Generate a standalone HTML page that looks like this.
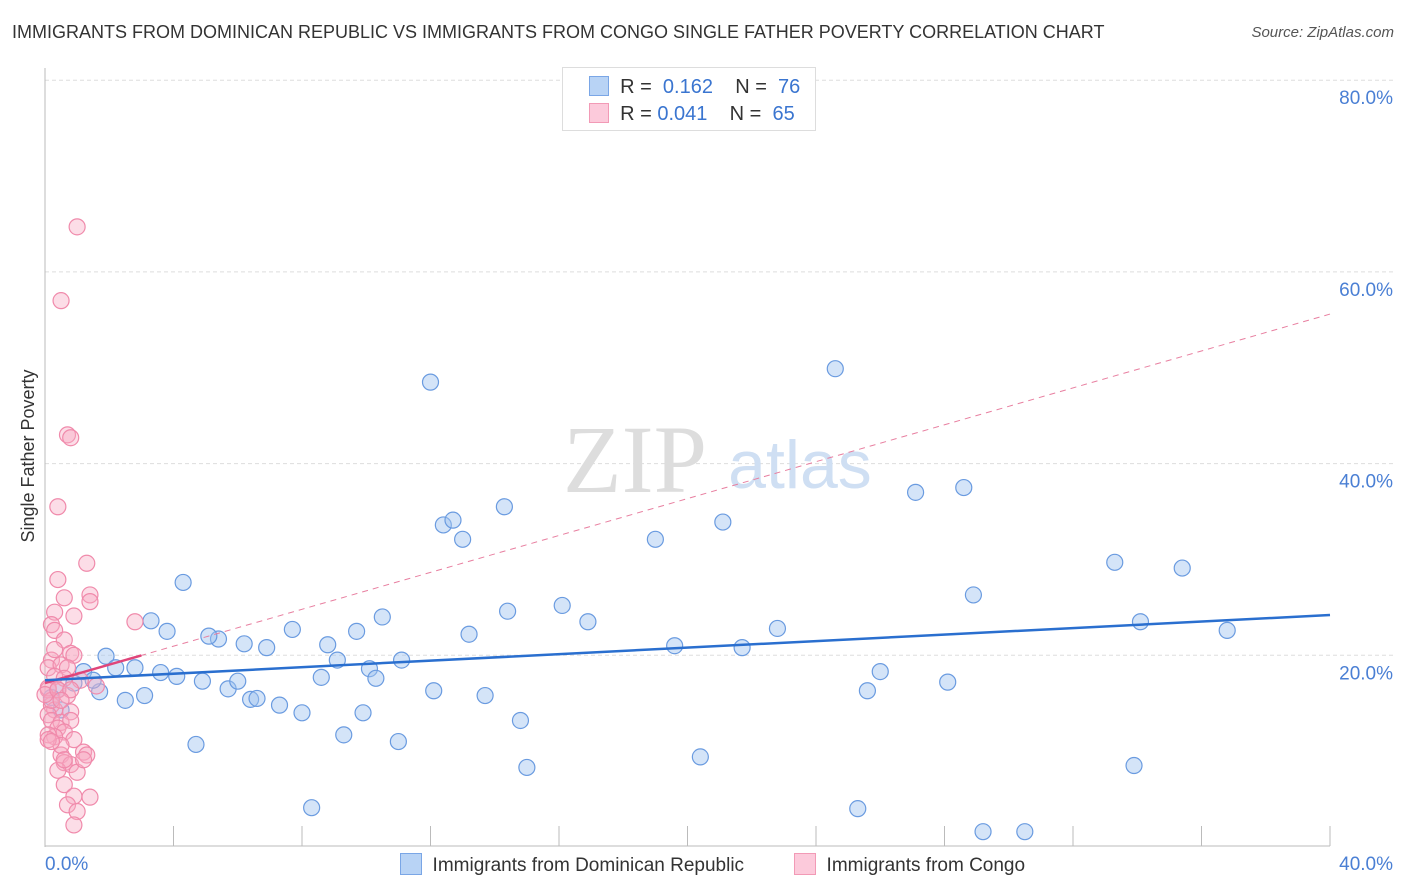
<!DOCTYPE html>
<html><head><meta charset="utf-8"><style>
body{margin:0;background:#fff;font-family:"Liberation Sans",sans-serif;}
#wrap{position:relative;width:1406px;height:892px;overflow:hidden}
.t{position:absolute;white-space:nowrap}
</style></head><body>
<div id="wrap">
<div class="t" style="left:12px;top:22px;font-size:18px;color:#333">IMMIGRANTS FROM DOMINICAN REPUBLIC VS IMMIGRANTS FROM CONGO SINGLE FATHER POVERTY CORRELATION CHART</div>
<div class="t" style="right:12px;top:24px;font-size:15px;color:#555;font-style:italic">Source: ZipAtlas.com</div>
<svg id="svg" width="1406" height="892" style="position:absolute;left:0;top:0"></svg>
</div>
<script>
const xTicks=[0,40];
const yTicks=[20,40,60,80];
const blueX=[12.0,24.6,12.4,12.7,13.0,14.3,19.0,21.1,27.1,28.6,33.3,35.4,28.9,34.1,36.8,16.1,14.4,16.9,13.2,10.5,9.7,8.8,7.7,6.9,6.2,5.4,5.1,4.3,3.8,3.3,1.9,1.2,2.2,2.8,3.6,4.1,4.9,5.7,6.0,6.4,6.6,7.3,8.0,8.6,9.1,10.1,10.3,11.1,9.9,9.3,11.0,12.1,13.7,14.8,15.0,19.6,21.7,22.8,20.4,26.0,25.6,28.1,33.9,25.3,29.2,30.5,8.3,4.7,2.5,3.1,1.7,0.9,1.5,0.4,0.2,0.5];
const blueY=[48.5,49.9,33.6,34.1,32.1,35.5,32.1,33.9,37.0,37.5,29.7,29.1,26.3,23.5,22.6,25.2,24.6,23.5,22.2,24.0,22.5,21.1,22.7,20.8,21.2,21.7,22.0,27.6,22.5,23.6,19.9,18.3,18.7,18.7,18.2,17.8,17.3,16.5,17.3,15.4,15.5,14.8,14.0,17.7,19.5,18.6,17.6,19.5,14.0,11.7,11.0,16.3,15.8,13.2,8.3,21.0,20.8,22.8,9.4,18.3,16.3,17.2,8.5,4.0,1.6,1.6,4.1,10.7,15.3,15.8,16.2,17.1,17.4,16.4,15.6,14.3];
const pinkX=[1.0,0.5,0.7,0.8,0.4,1.3,0.4,1.4,1.4,0.6,0.3,0.9,2.8,0.2,0.3,0.6,0.8,0.9,0.2,0.1,0.5,0.7,0.3,0.6,1.6,0.1,0.2,0.3,0.8,0.1,0.2,0.5,0.8,0.4,0.6,0.3,0.9,1.2,1.3,0.5,0.6,0.8,0.4,1.0,0.6,0.9,1.4,0.7,1.0,0.9,0.1,0.2,0.0,0.1,0.5,0.7,1.1,0.3,0.4,0.1,0.8,0.6,1.2,0.2,0.5];
const pinkY=[64.7,57.0,43.0,42.7,35.5,29.6,27.9,26.3,25.6,26.0,24.5,24.1,23.5,23.2,22.6,21.6,20.2,20.0,19.5,18.7,19.0,18.7,17.8,17.6,16.8,16.4,14.8,14.3,14.1,13.8,13.2,13.0,13.2,12.4,12.0,11.5,11.2,9.9,9.6,9.6,8.8,8.6,8.0,7.8,6.5,5.3,5.2,4.4,3.7,2.3,16.6,15.3,15.9,11.7,10.6,15.8,17.4,20.6,16.4,11.2,16.4,9.1,9.1,11.0,15.3];
const blueTrend=[17.4,24.2];
const pinkTrend=[17.1,55.6];
const NS="http://www.w3.org/2000/svg";
const svg=document.getElementById('svg');
const X0=45,X1=1330,Y0=847,YPER=9.585;
const sx=v=>X0+(X1-X0)*v/40, sy=v=>Y0-v*YPER;
function el(tag,a,parent){const e=document.createElementNS(NS,tag);for(const k in a)e.setAttribute(k,a[k]);(parent||svg).appendChild(e);return e;}
// grid
yTicks.forEach(v=>{
 const g=el('line',{x1:X0,x2:1395,y1:sy(v),y2:sy(v),stroke:'#ddd','stroke-dasharray':'4,3'});
 
 
 const t=el('text',{x:1393,y:sy(v)+24,'text-anchor':'end','font-size':19,fill:'#4a7fd4','font-family':'Liberation Sans'});
 t.textContent=v.toFixed(1)+'%';
 
 
});
// axes
const ax=el('line',{x1:X0,x2:X0,y1:68,y2:Y0,stroke:'#bbb'});


const bx=el('line',{x1:X0,x2:X1,y1:Y0-1,y2:Y0-1,stroke:'#bbb'});


for(let i=0;i<=10;i++){
 const tk=el('line',{x1:sx(i*4),x2:sx(i*4),y1:826,y2:846,stroke:'#bbb'});
 
 
}
xTicks.forEach((v,i)=>{
 const t=el('text',{x:i==0?45:1393,y:870,'text-anchor':i==0?'start':'end','font-size':19,fill:'#4a7fd4','font-family':'Liberation Sans'});
 t.textContent=v.toFixed(1)+'%';
 
 
});
// watermark
const w1=el('text',{x:635,y:492,'text-anchor':'middle','font-size':96,fill:'#ddd','font-family':'Liberation Serif'});
w1.textContent='ZIP';


const w2=el('text',{x:800,y:488,'text-anchor':'middle','font-size':68,fill:'#cfdff3','font-family':'Liberation Sans'});
w2.textContent='atlas';


// points
blueX.forEach((v,i)=>{
 const c=el('circle',{cx:sx(v),cy:sy(blueY[i]),r:8,fill:'rgba(160,196,240,0.45)',stroke:'#6a9be0','stroke-width':1.2});
 
 
});
pinkX.forEach((v,i)=>{
 const c=el('circle',{cx:sx(v),cy:sy(pinkY[i]),r:8,fill:'rgba(248,170,195,0.4)',stroke:'#f08aab','stroke-width':1.2});
 
 
});
// trends
const pd=el('line',{x1:sx(0),y1:sy(pinkTrend[0]),x2:sx(40),y2:sy(pinkTrend[1]),stroke:'#e87fa0','stroke-width':1,'stroke-dasharray':'6,5'});


const f=3;
const ps=el('line',{x1:sx(0),y1:sy(pinkTrend[0]),x2:sx(f),y2:sy(pinkTrend[0]+(pinkTrend[1]-pinkTrend[0])*f/40),stroke:'#e0457a','stroke-width':2.5});


const bt=el('line',{x1:sx(0),y1:sy(blueTrend[0]),x2:sx(40),y2:sy(blueTrend[1]),stroke:'#2a6fcf','stroke-width':2.5});


// y title
const yt=el('text',{x:34,y:456,'text-anchor':'middle','font-size':18,fill:'#333','font-family':'Liberation Sans',transform:'rotate(-90 34 456)'});
yt.textContent='Single Father Poverty';


</script>
<div class="t" style="left:562px;top:67px;width:252px;height:62px;border:1px solid #ddd;background:#fff;font-size:20px;color:#333">
 <div style="position:absolute;left:26px;top:8px"><span style="display:inline-block;width:18px;height:18px;background:#b8d3f5;border:1px solid #7aa6e6;vertical-align:-3px"></span>&nbsp; R = &nbsp;<span style="color:#3a75d0">0.162</span>&nbsp;&nbsp;&nbsp; N = &nbsp;<span style="color:#3a75d0">76</span></div>
 <div style="position:absolute;left:26px;top:35px"><span style="display:inline-block;width:18px;height:18px;background:#fccadb;border:1px solid #f29ab6;vertical-align:-3px"></span>&nbsp; R = <span style="color:#3a75d0">0.041</span>&nbsp;&nbsp;&nbsp; N = &nbsp;<span style="color:#3a75d0">65</span></div>
</div>
<div class="t" style="left:400px;top:853px;font-size:19px;color:#333"><span style="display:inline-block;width:20px;height:20px;background:#b8d3f5;border:1px solid #7aa6e6;vertical-align:-4px"></span>&nbsp; Immigrants from Dominican Republic</div>
<div class="t" style="left:794px;top:853px;font-size:19px;color:#333"><span style="display:inline-block;width:20px;height:20px;background:#fccadb;border:1px solid #f29ab6;vertical-align:-4px"></span>&nbsp; Immigrants from Congo</div>
</body></html>
